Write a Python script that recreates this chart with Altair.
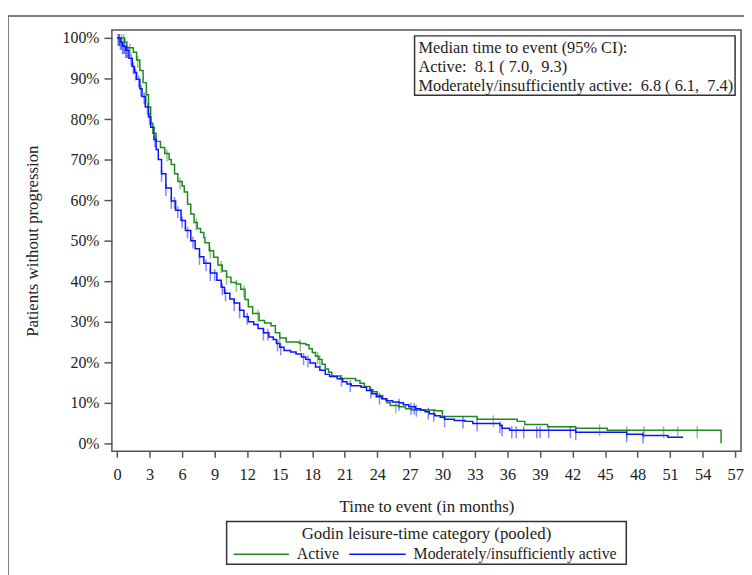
import altair as alt
import numpy as np
import pandas as pd

# ---- data ----
groups = ["Active", "Moderately/insufficiently active"]
colors = ["#1f8a1f", "#0a14ff"]
legend_title = "Godin leisure-time category (pooled)"

active_t = [0, 0.7, 0.9, 1.5, 1.8, 2.1, 2.4, 2.7, 2.9, 3.1, 3.3, 3.6, 4.0, 4.4, 4.8, 5.0, 5.3, 5.6,
            6.0, 6.2, 6.5, 6.8, 7.1, 7.4, 7.7, 8.0, 8.1, 8.5, 8.9, 9.3, 9.7, 10.1, 10.5, 11.0, 11.4,
            11.8, 12.1, 12.5, 13.1, 13.6, 14.2, 14.6, 15.0, 15.6, 16.8, 17.4, 17.7, 18.0, 18.3, 18.6,
            18.9, 19.2, 19.5, 19.8, 20.6, 22.0, 22.4, 22.8, 23.3, 23.6, 24.0, 24.5, 24.9, 25.2, 26.0,
            26.6, 27.2, 29.3, 30.0, 33.2, 36.9, 37.6, 39.7, 42.3, 45.2, 55.7]
active_s = [100, 99, 97.6, 96.5, 94.6, 92, 89, 86, 83, 79, 76.5, 74.5, 73, 71.5, 70, 68.8, 66.5, 64.6,
            63.5, 62, 59, 56.6, 54.5, 53, 52, 50.8, 49.5, 47.5, 45.9, 44, 42.5, 41, 39.7, 39.3, 38,
            35.5, 33.7, 32, 30.3, 29.7, 29, 27.3, 26, 25, 24.6, 24.3, 23.3, 22.4, 21.5, 20.7,
            19.5, 18.3, 17.5, 16.6, 16, 15.5, 14.8, 14, 13.2, 12.7, 11.8, 11, 10, 9.3, 9,
            8.5, 8.2, 8.0, 6.6, 5.9, 5.4, 4.6, 4.1, 3.7, 3.2, 0]

moderate_t = [0, 0.3, 0.5, 0.8, 1.1, 1.4, 1.6, 1.8, 2.1, 2.3, 2.6, 2.9, 3.1, 3.4, 3.6, 3.8, 4.1, 4.5,
              5.0, 5.4, 5.9, 6.3, 6.8, 7.2, 7.6, 8.0, 8.6, 9.2, 9.6, 9.9, 10.4, 10.8, 11.3, 11.7, 12.1,
              12.6, 13.0, 13.5, 14.0, 14.4, 14.7, 15.0, 15.4, 16.0, 16.5, 17.0, 17.4, 17.8, 18.3, 18.7,
              19.2, 19.6, 20.3, 20.8, 21.2, 21.6, 22.5, 23.0, 23.5, 23.9, 24.4, 24.8, 25.4, 26.0, 26.4,
              26.9, 27.5, 28.0, 28.4, 28.8, 29.3, 29.8, 30.2, 31.1, 32.1, 32.8, 35.3, 35.5, 36.2, 42.3,
              47.0, 48.5, 50.8, 52.2]
moderate_s = [100, 99, 98, 97, 95, 93, 91.5, 89.8, 87.5, 85.6, 83, 80.5, 78, 75, 72.5, 70, 66.5, 63,
              59.8, 57.5, 55, 52.5, 50, 48, 46, 44.4, 42, 40.2, 38.5, 37, 35.6, 34.6, 32.8, 31.2, 30,
              29.3, 28.3, 27.3, 26.2, 25.6, 24.6, 23.7, 22.9, 22.5, 22, 21.3, 20.7, 19.8, 18.8, 18,
              17, 16.5, 15.9, 15.2, 14.6, 14.2, 13.8, 13, 12.2, 11.5, 11, 10.5, 10.2, 10, 9.5,
              9, 8.5, 8.2, 7.8, 7.3, 6.8, 6.4, 5.9, 5.6, 5.4, 4.9, 4.4, 3.7, 3.2, 2.7,
              2.2, 1.9, 1.5, 1.5]

active_censor = [0.2, 0.4, 0.6, 1.2, 1.9, 2.7, 3.4, 4.6, 5.8, 7.3, 8.6, 9.6, 10.1, 11.0, 11.7, 13.0,
                 15.0, 16.9, 18.5, 18.7, 25.7, 34.7, 44.5, 47.0, 48.6, 50.4, 51.7, 53.5]
moderate_censor = [0.1, 0.2, 0.3, 0.4, 0.5, 0.6, 0.7, 0.8, 0.9, 1.0, 1.3, 1.5, 1.7, 2.0, 2.2, 2.5,
                   2.8, 3.0, 3.5, 4.1, 4.5, 5.0, 5.3, 5.6, 6.0, 6.5, 7.0, 7.6, 8.2, 8.6, 9.0, 9.7,
                   10.0, 10.8, 11.3, 12.0, 13.5, 13.9, 14.8, 15.1, 17.2, 17.6, 20.7, 21.5, 23.4,
                   24.2, 26.0, 27.1, 27.4, 27.6, 28.7, 29.2, 30.2, 31.9, 33.2, 35.3, 35.5, 36.4,
                   36.8, 37.5, 38.7, 39.0, 39.8, 41.8, 42.3, 47.0, 48.5]

x_ticks = list(range(0, 58, 3))
y_ticks = list(range(0, 101, 10))

NB = "\u00a0"
inset_lines = ["Median time to event (95% CI):",
               f"Active:{NB} 8.1 ({NB}7.0,{NB} 9.3)",
               f"Moderately/insufficiently active:{NB} 6.8 ({NB}6.1,{NB} 7.4)"]

# ---- tables ----
curves = pd.concat([
    pd.DataFrame({"t": active_t, "s": active_s, "g": groups[0]}),
    pd.DataFrame({"t": moderate_t, "s": moderate_s, "g": groups[1]}),
])


def step_lookup(ts, ss, q):
    idx = np.searchsorted(np.array(ts), np.array(q), side="right") - 1
    return np.array(ss)[idx]


censor = pd.concat([
    pd.DataFrame({"t": active_censor, "s": step_lookup(active_t, active_s, active_censor), "g": groups[0]}),
    pd.DataFrame({"t": moderate_censor, "s": step_lookup(moderate_t, moderate_s, moderate_censor), "g": groups[1]}),
])

FONT = "Liberation Serif"
TXT = "#222222"
AX = "#555555"
one = pd.DataFrame({"a": [0]})

xscale = alt.Scale(domain=[-0.48, 57.54], nice=False, zero=False)
yscale = alt.Scale(domain=[-2, 102], nice=False, zero=False)
cscale = alt.Scale(domain=groups, range=colors)

xaxis = alt.Axis(values=x_ticks, title="Time to event (in months)", grid=False, domain=False,
                 tickSize=6, tickColor=AX, tickWidth=1.5, labelPadding=9, labelFontSize=16.5,
                 titleFontSize=17, titlePadding=16, labelFlush=False, labelOverlap=False)
yaxis = alt.Axis(values=y_ticks, title="Patients without progression", grid=False, domain=False,
                 tickSize=8, tickColor=AX, tickWidth=1.5, labelPadding=5, labelFontSize=16,
                 titleFontSize=17, titlePadding=21, labelExpr="datum.value + '%'", labelOverlap=False)

lines = alt.Chart(curves).mark_line(interpolate="step-after", strokeWidth=1.5).encode(
    x=alt.X("t:Q", scale=xscale, axis=xaxis),
    y=alt.Y("s:Q", scale=yscale, axis=yaxis),
    color=alt.Color("g:N", scale=cscale, legend=None),
    detail="g:N",
)

ticks = alt.Chart(censor).mark_tick(orient="vertical", size=12, thickness=1.5, opacity=0.5, yOffset=2).encode(
    x=alt.X("t:Q", scale=xscale, axis=xaxis),
    y=alt.Y("s:Q", scale=yscale, axis=yaxis),
    color=alt.Color("g:N", scale=cscale, legend=None),
)

# inset box with medians
box = alt.Chart(one).mark_rect(fill="white", stroke="#333333", strokeWidth=1.5).encode(
    x=alt.value(306), x2=alt.value(630), y=alt.value(6), y2=alt.value(66))
inset = alt.Chart(one).mark_text(
    align="left", baseline="middle", font=FONT, fontSize=16.5, color=TXT, lineHeight=19.5
).encode(x=alt.value(310), y=alt.value(18), text=alt.value(inset_lines))

# legend drawn below the plot
leg_box = alt.Chart(one).mark_rect(fill="white", stroke="#333333", strokeWidth=1.5).encode(
    x=alt.value(116), x2=alt.value(520), y=alt.value(497), y2=alt.value(540))
leg_title = alt.Chart(one).mark_text(
    align="center", baseline="middle", font=FONT, fontSize=17, color=TXT
).encode(x=alt.value(318), y=alt.value(510), text=alt.value(legend_title))
leg_line_a = alt.Chart(one).mark_rule(color=colors[0], strokeWidth=1.5).encode(
    x=alt.value(123), x2=alt.value(179), y=alt.value(530))
leg_text_a = alt.Chart(one).mark_text(
    align="left", baseline="middle", font=FONT, fontSize=16, color=TXT
).encode(x=alt.value(187), y=alt.value(530), text=alt.value(groups[0]))
leg_line_b = alt.Chart(one).mark_rule(color=colors[1], strokeWidth=1.5).encode(
    x=alt.value(240), x2=alt.value(297), y=alt.value(530))
leg_text_b = alt.Chart(one).mark_text(
    align="left", baseline="middle", font=FONT, fontSize=16, color=TXT
).encode(x=alt.value(305), y=alt.value(530), text=alt.value(groups[1]))

# outer figure frame
frame_top = alt.Chart(one).mark_rule(color=AX, strokeWidth=1.5).encode(
    x=alt.value(-105), x2=alt.value(645), y=alt.value(-14))
frame_left = alt.Chart(one).mark_rule(color=AX, strokeWidth=1.5).encode(
    x=alt.value(-105), y=alt.value(-14), y2=alt.value(560))

chart = alt.layer(
    lines, ticks, box, inset, leg_box, leg_title, leg_line_a, leg_text_a, leg_line_b, leg_text_b,
    frame_top, frame_left,
).properties(
    width=636, height=426, autosize="none", background="white",
    padding={"left": 105, "top": 19, "right": 3, "bottom": 140},
).configure_view(stroke=AX, strokeWidth=1.5).configure_axis(
    labelFont=FONT, titleFont=FONT, labelColor=TXT, titleColor=TXT, titleFontWeight="normal"
)

chart.save("out.html", embed_options={"renderer": "svg", "actions": False})
